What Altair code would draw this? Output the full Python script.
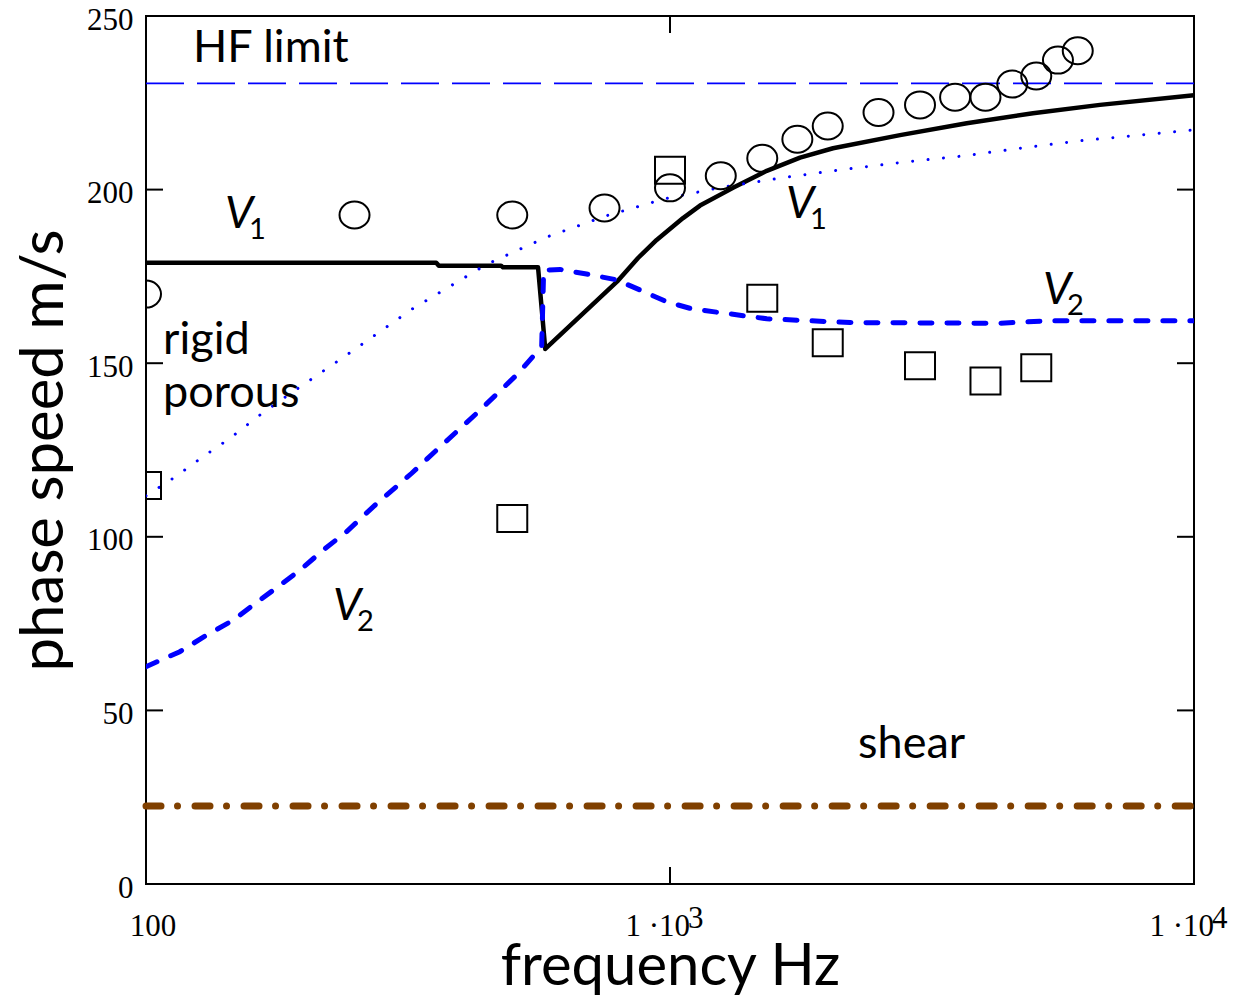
import altair as alt
import pandas as pd

# ---------------- data ----------------
# V1 : solid black model curve
v1_freq = [100, 358, 362, 476, 480, 560, 578, 796, 869, 943, 1059, 1141, 1319,
           1530, 1771, 2047, 2748, 3684, 4928, 6615, 10000]
v1_speed = [178.9, 178.9, 178.1, 178.1, 177.6, 177.6, 154.1, 173.8, 180.3, 185.5,
            191.8, 195.4, 200.5, 205.4, 209.2, 211.9, 215.7, 219.1, 222.0, 224.4, 227.2]

# V2 : blue dashed model curve
v2_freq = [100, 116, 130.6, 146.8, 160.3, 180.3, 196.7, 218, 241.5, 271.6, 321.4,
           358.7, 430.7, 513.5, 569, 574, 617, 693, 791, 876, 985, 1092, 1228,
           1530, 2206, 4264, 5235, 10000]
v2_speed = [62.6, 66.9, 71.7, 76.0, 80.4, 86.1, 90.4, 96.2, 101.5, 108.7, 118.3,
            125.0, 136.0, 147.1, 154.8, 176.8, 177.0, 175.7, 174.0, 171.1, 167.7,
            165.8, 164.7, 162.8, 161.7, 161.5, 162.2, 162.2]

# rigid porous : blue dotted curve
rp_freq = [100, 113.6, 128, 144.7, 163, 184.2, 245, 322, 447, 581, 754, 980, 1269,
           1651, 2141, 2788, 3628, 4697, 6086, 7886, 10000]
rp_speed = [111.8, 117.2, 122.9, 128.4, 134.5, 140.2, 153.0, 165.6, 178.5, 186.3,
            192.4, 197.4, 200.8, 203.5, 205.8, 207.9, 209.7, 212.0, 214.1, 215.7, 217.2]

# horizontal reference lines
span_freq = [100, 10000]
hf_limit_speed = 230.6
shear_speed = 22.5

# measured data: circles and squares
circ_freq = [100, 250, 500, 750, 1000, 1250, 1500, 1750, 2000, 2500, 3000, 3500,
             4000, 4500, 5000, 5500, 6000]
circ_speed = [169.9, 192.7, 192.7, 194.7, 200.5, 204.0, 209.0, 214.5, 218.3, 222.2,
              224.4, 226.6, 226.6, 230.4, 232.7, 237.3, 240.0]
sq_freq = [100, 500, 1000, 1500, 2000, 3000, 4000, 5000]
sq_speed = [114.8, 105.3, 205.6, 168.7, 155.9, 149.3, 144.9, 148.7]

# annotations
note_text = ["HF limit", "rigid", "porous", "shear"]
note_freq = [122.9, 107.8, 107.8, 2285]
note_speed = [236.8, 152.6, 137.5, 36.3]

vlab_main = ["V", "V", "V", "V"]
vlab_sub = ["1", "1", "2", "2"]
vlab_freq = [141.5, 1665, 5150, 227.5]
vlab_speed = [188.9, 191.8, 167.1, 76.0]

# axes
y_ticks = [0, 50, 100, 150, 200, 250]
x_ticks = [100, 1000, 10000]
x_tick_main = ["100", "1 \u00b710", "1 \u00b710"]
x_tick_exp = ["", "3", "4"]

# ---------------- chart ----------------
W, H = 1048, 868
xs = alt.Scale(type="log", domain=[100, 10000], nice=False)
ys = alt.Scale(domain=[0, 250], nice=False)
TXT = "Lato"
SERIF = "Liberation Serif"

x_axis = alt.Axis(title="frequency Hz", labels=False, ticks=False, domain=False,
                  grid=False, titleFont=TXT, titleFontSize=58,
                  titleFontWeight="normal", titleColor="black", titleY=100,
                  titleBaseline="alphabetic")
y_axis = alt.Axis(title="phase speed m/s", values=y_ticks, ticks=False, tickSize=0,
                  domain=False, grid=False, labelFont=SERIF, labelFontSize=31,
                  labelColor="black", labelPadding=13, labelOffset=4,
                  titleFont=TXT, titleFontSize=60, titleFontWeight="normal",
                  titleColor="black", titleX=-84, titleY=H / 2, titleAngle=270,
                  titleAlign="center", titleBaseline="alphabetic")


def X():
    return alt.X("f:Q", scale=xs, axis=x_axis)


def Y():
    return alt.Y("v:Q", scale=ys, axis=y_axis)


def line_df(fr, sp):
    return pd.DataFrame({"f": fr, "v": sp, "i": list(range(len(fr)))})


v1 = alt.Chart(line_df(v1_freq, v1_speed)).mark_line(
    color="black", strokeWidth=4.5, clip=True, strokeJoin="round"
).encode(x=X(), y=Y(), order="i:Q")

v2 = alt.Chart(line_df(v2_freq, v2_speed)).mark_line(
    color="#0000ff", strokeWidth=5, strokeDash=[12, 15], strokeCap="round", clip=True
).encode(x=X(), y=Y(), order="i:Q")

rp = alt.Chart(line_df(rp_freq, rp_speed)).mark_line(
    color="#0000ff", strokeWidth=3, strokeDash=[0.01, 15.5], strokeCap="round", clip=True
).encode(x=X(), y=Y(), order="i:Q")

hf = alt.Chart(line_df(span_freq, [hf_limit_speed] * 2)).mark_line(
    color="#0000ff", strokeWidth=1.6, strokeDash=[38, 13]
).encode(x=X(), y=Y())

shear = alt.Chart(line_df(span_freq, [shear_speed] * 2)).mark_line(
    color="#804000", strokeWidth=7, strokeDash=[15, 16.5, 0.01, 17.5], strokeCap="round"
).encode(x=X(), y=Y())

ellipse = "M-1,0A1,0.9,0,1,1,1,0A1,0.9,0,1,1,-1,0Z"
rect = "M-1,-0.9H1V0.9H-1Z"
circles = alt.Chart(pd.DataFrame({"f": circ_freq, "v": circ_speed})).mark_point(
    shape=ellipse, size=900, filled=False, stroke="black", strokeWidth=2,
    opacity=1, clip=True
).encode(x=X(), y=Y())
squares = alt.Chart(pd.DataFrame({"f": sq_freq, "v": sq_speed})).mark_point(
    shape=rect, size=900, filled=False, stroke="black", strokeWidth=2,
    opacity=1, clip=True
).encode(x=X(), y=Y())

notes = alt.Chart(pd.DataFrame({"f": note_freq, "v": note_speed, "t": note_text})).mark_text(
    align="left", baseline="alphabetic", font=TXT, fontSize=45, color="black"
).encode(x=X(), y=Y(), text="t:N")

vdf = pd.DataFrame({"f": vlab_freq, "v": vlab_speed, "m": vlab_main, "s": vlab_sub})
vmain = alt.Chart(vdf).mark_text(
    align="left", baseline="alphabetic", font=TXT, fontSize=45,
    fontStyle="italic", color="black"
).encode(x=X(), y=Y(), text="m:N")
vsub = alt.Chart(vdf).mark_text(
    align="left", baseline="alphabetic", font=TXT, fontSize=29, color="black",
    dx=24, dy=11
).encode(x=X(), y=Y(), text="s:N")

# inward tick marks on all four sides
ytdf = pd.DataFrame({"v": y_ticks})
yt_left = alt.Chart(ytdf).mark_rule(color="black", strokeWidth=2).encode(
    y=Y(), x=alt.value(0), x2=alt.value(17))
yt_right = alt.Chart(ytdf).mark_rule(color="black", strokeWidth=2).encode(
    y=Y(), x=alt.value(W - 17), x2=alt.value(W))
xtdf = pd.DataFrame({"f": x_ticks, "m": x_tick_main, "e": x_tick_exp})
xt_bot = alt.Chart(xtdf).mark_rule(color="black", strokeWidth=2).encode(
    x=X(), y=alt.value(H - 17), y2=alt.value(H))
xt_top = alt.Chart(xtdf).mark_rule(color="black", strokeWidth=2).encode(
    x=X(), y=alt.value(0), y2=alt.value(17))

# x tick labels (100, 1·10^3, 1·10^4)
xl_first = alt.Chart(xtdf).transform_filter("datum.f == 100").mark_text(
    align="center", baseline="alphabetic", font=SERIF, fontSize=31, color="black", dx=7
).encode(x=X(), y=alt.value(920), text="m:N")
xl_pow = alt.Chart(xtdf).transform_filter("datum.f > 100").mark_text(
    align="right", baseline="alphabetic", font=SERIF, fontSize=31, color="black", dx=20
).encode(x=X(), y=alt.value(920), text="m:N")
xl_exp = alt.Chart(xtdf).transform_filter("datum.f > 100").mark_text(
    align="left", baseline="alphabetic", font=SERIF, fontSize=31, color="black", dx=18
).encode(x=X(), y=alt.value(912), text="e:N")

chart = alt.layer(
    v1, shear, hf, rp, v2, circles, squares, notes, vmain, vsub,
    yt_left, yt_right, xt_bot, xt_top, xl_first, xl_pow, xl_exp
).properties(
    width=W, height=H,
    autosize=alt.AutoSizeParams(type="none"),
    padding={"left": 138, "top": 8, "right": 34, "bottom": 112},
    background="white",
).configure_view(stroke="black", strokeWidth=2)

chart.save("out.html", embed_options={"renderer": "svg", "actions": False})
